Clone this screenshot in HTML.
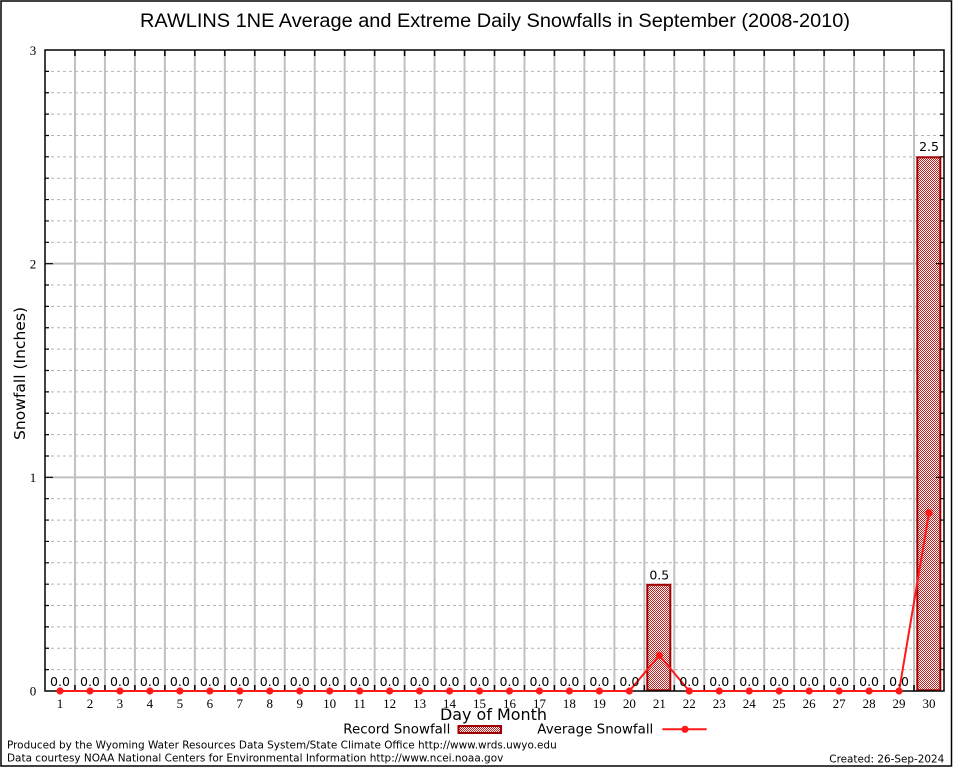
<!DOCTYPE html>
<html>
<head>
<meta charset="utf-8">
<style>
html,body{margin:0;padding:0;background:#fff;}
svg{display:block;}
.t{font-family:"DejaVu Sans",sans-serif;}
.s{font-family:"Liberation Serif",serif;}
</style>
</head>
<body>
<svg width="954" height="768" viewBox="0 0 954 768" xmlns="http://www.w3.org/2000/svg">
<defs>
<pattern id="chk" patternUnits="userSpaceOnUse" width="2" height="2">
<rect x="0" y="0" width="2" height="2" fill="#ffffff"/>
<rect x="0" y="0" width="1" height="1" fill="#c81e1e"/>
<rect x="1" y="1" width="1" height="1" fill="#c81e1e"/>
</pattern>
</defs>
<rect x="0" y="0" width="954" height="768" fill="#fff"/>
<rect x="1" y="1" width="950.5" height="765" fill="none" stroke="#000" stroke-width="1.5"/>

<!-- Title -->
<text x="495" y="27" text-anchor="middle" font-family="Liberation Sans, sans-serif" font-size="19" textLength="710" lengthAdjust="spacingAndGlyphs">RAWLINS 1NE Average and Extreme Daily Snowfalls in September (2008-2010)</text>

<!-- Minor horizontal dashed grid -->
<g stroke="#b4b4b4" stroke-width="1" stroke-dasharray="3,3" fill="none">
<line x1="45" x2="944" y1="669.63" y2="669.63"/>
<line x1="45" x2="944" y1="648.27" y2="648.27"/>
<line x1="45" x2="944" y1="626.9" y2="626.9"/>
<line x1="45" x2="944" y1="605.53" y2="605.53"/>
<line x1="45" x2="944" y1="584.17" y2="584.17"/>
<line x1="45" x2="944" y1="562.8" y2="562.8"/>
<line x1="45" x2="944" y1="541.43" y2="541.43"/>
<line x1="45" x2="944" y1="520.07" y2="520.07"/>
<line x1="45" x2="944" y1="498.7" y2="498.7"/>
<line x1="45" x2="944" y1="455.97" y2="455.97"/>
<line x1="45" x2="944" y1="434.6" y2="434.6"/>
<line x1="45" x2="944" y1="413.23" y2="413.23"/>
<line x1="45" x2="944" y1="391.87" y2="391.87"/>
<line x1="45" x2="944" y1="370.5" y2="370.5"/>
<line x1="45" x2="944" y1="349.13" y2="349.13"/>
<line x1="45" x2="944" y1="327.77" y2="327.77"/>
<line x1="45" x2="944" y1="306.4" y2="306.4"/>
<line x1="45" x2="944" y1="285.03" y2="285.03"/>
<line x1="45" x2="944" y1="242.3" y2="242.3"/>
<line x1="45" x2="944" y1="220.93" y2="220.93"/>
<line x1="45" x2="944" y1="199.57" y2="199.57"/>
<line x1="45" x2="944" y1="178.2" y2="178.2"/>
<line x1="45" x2="944" y1="156.83" y2="156.83"/>
<line x1="45" x2="944" y1="135.47" y2="135.47"/>
<line x1="45" x2="944" y1="114.1" y2="114.1"/>
<line x1="45" x2="944" y1="92.73" y2="92.73"/>
<line x1="45" x2="944" y1="71.37" y2="71.37"/>
</g>
<!-- Major horizontal grid -->
<g stroke="#c0c0c0" stroke-width="2">
<line x1="45" x2="944" y1="477.33" y2="477.33"/>
<line x1="45" x2="944" y1="263.67" y2="263.67"/>
</g>
<!-- Vertical grid -->
<g stroke="#c0c0c0" stroke-width="2">
<line x1="74.97" x2="74.97" y1="50" y2="691"/>
<line x1="104.93" x2="104.93" y1="50" y2="691"/>
<line x1="134.9" x2="134.9" y1="50" y2="691"/>
<line x1="164.87" x2="164.87" y1="50" y2="691"/>
<line x1="194.83" x2="194.83" y1="50" y2="691"/>
<line x1="224.8" x2="224.8" y1="50" y2="691"/>
<line x1="254.77" x2="254.77" y1="50" y2="691"/>
<line x1="284.73" x2="284.73" y1="50" y2="691"/>
<line x1="314.7" x2="314.7" y1="50" y2="691"/>
<line x1="344.67" x2="344.67" y1="50" y2="691"/>
<line x1="374.63" x2="374.63" y1="50" y2="691"/>
<line x1="404.6" x2="404.6" y1="50" y2="691"/>
<line x1="434.57" x2="434.57" y1="50" y2="691"/>
<line x1="464.53" x2="464.53" y1="50" y2="691"/>
<line x1="494.5" x2="494.5" y1="50" y2="691"/>
<line x1="524.47" x2="524.47" y1="50" y2="691"/>
<line x1="554.43" x2="554.43" y1="50" y2="691"/>
<line x1="584.4" x2="584.4" y1="50" y2="691"/>
<line x1="614.37" x2="614.37" y1="50" y2="691"/>
<line x1="644.33" x2="644.33" y1="50" y2="691"/>
<line x1="674.3" x2="674.3" y1="50" y2="691"/>
<line x1="704.27" x2="704.27" y1="50" y2="691"/>
<line x1="734.23" x2="734.23" y1="50" y2="691"/>
<line x1="764.2" x2="764.2" y1="50" y2="691"/>
<line x1="794.17" x2="794.17" y1="50" y2="691"/>
<line x1="824.13" x2="824.13" y1="50" y2="691"/>
<line x1="854.1" x2="854.1" y1="50" y2="691"/>
<line x1="884.07" x2="884.07" y1="50" y2="691"/>
<line x1="914.03" x2="914.03" y1="50" y2="691"/>
</g>

<!-- Bars -->
<rect x="647.3" y="584.8" width="23" height="105.5" fill="url(#chk)" stroke="#a00000" stroke-width="2"/>
<rect x="917.3" y="157.3" width="23" height="533" fill="url(#chk)" stroke="#a00000" stroke-width="2"/>

<!-- Axes frame -->
<rect x="45" y="50" width="899" height="641" fill="none" stroke="#000" stroke-width="1.5"/>

<!-- X ticks top and bottom -->
<g stroke="#000" stroke-width="1.5">
<path d="M74.97 50v6M104.93 50v6M134.9 50v6M164.87 50v6M194.83 50v6M224.8 50v6M254.77 50v6M284.73 50v6M314.7 50v6M344.67 50v6M374.63 50v6M404.6 50v6M434.57 50v6M464.53 50v6M494.5 50v6M524.47 50v6M554.43 50v6M584.4 50v6M614.37 50v6M644.33 50v6M674.3 50v6M704.27 50v6M734.23 50v6M764.2 50v6M794.17 50v6M824.13 50v6M854.1 50v6M884.07 50v6M914.03 50v6"/>
<path d="M74.97 691v-6M104.93 691v-6M134.9 691v-6M164.87 691v-6M194.83 691v-6M224.8 691v-6M254.77 691v-6M284.73 691v-6M314.7 691v-6M344.67 691v-6M374.63 691v-6M404.6 691v-6M434.57 691v-6M464.53 691v-6M494.5 691v-6M524.47 691v-6M554.43 691v-6M584.4 691v-6M614.37 691v-6M644.33 691v-6M674.3 691v-6M704.27 691v-6M734.23 691v-6M764.2 691v-6M794.17 691v-6M824.13 691v-6M854.1 691v-6M884.07 691v-6M914.03 691v-6"/>
</g>
<!-- Y ticks -->
<g stroke="#000" stroke-width="1.2">
<path d="M45 669.63h4M45 648.27h4M45 626.9h4M45 605.53h4M45 584.17h4M45 562.8h4M45 541.43h4M45 520.07h4M45 498.7h4M45 477.33h8M45 455.97h4M45 434.6h4M45 413.23h4M45 391.87h4M45 370.5h4M45 349.13h4M45 327.77h4M45 306.4h4M45 285.03h4M45 263.67h8M45 242.3h4M45 220.93h4M45 199.57h4M45 178.2h4M45 156.83h4M45 135.47h4M45 114.1h4M45 92.73h4M45 71.37h4"/>
<path d="M944 669.63h-4M944 648.27h-4M944 626.9h-4M944 605.53h-4M944 584.17h-4M944 562.8h-4M944 541.43h-4M944 520.07h-4M944 498.7h-4M944 477.33h-8M944 455.97h-4M944 434.6h-4M944 413.23h-4M944 391.87h-4M944 370.5h-4M944 349.13h-4M944 327.77h-4M944 306.4h-4M944 285.03h-4M944 263.67h-8M944 242.3h-4M944 220.93h-4M944 199.57h-4M944 178.2h-4M944 156.83h-4M944 135.47h-4M944 114.1h-4M944 92.73h-4M944 71.37h-4"/>
</g>

<!-- Average line -->
<polyline fill="none" stroke="#ff1a1a" stroke-width="2" points="59.98,691 89.95,691 119.92,691 149.88,691 179.85,691 209.82,691 239.78,691 269.75,691 299.72,691 329.68,691 359.65,691 389.62,691 419.58,691 449.55,691 479.52,691 509.48,691 539.45,691 569.42,691 599.38,691 629.35,691 659.32,655.4 689.28,691 719.25,691 749.22,691 779.18,691 809.15,691 839.12,691 869.08,691 899.05,691 929.02,512.9"/>
<g fill="#ff1a1a">
<circle cx="59.98" cy="691" r="3.6"/><circle cx="89.95" cy="691" r="3.6"/><circle cx="119.92" cy="691" r="3.6"/><circle cx="149.88" cy="691" r="3.6"/><circle cx="179.85" cy="691" r="3.6"/><circle cx="209.82" cy="691" r="3.6"/><circle cx="239.78" cy="691" r="3.6"/><circle cx="269.75" cy="691" r="3.6"/><circle cx="299.72" cy="691" r="3.6"/><circle cx="329.68" cy="691" r="3.6"/><circle cx="359.65" cy="691" r="3.6"/><circle cx="389.62" cy="691" r="3.6"/><circle cx="419.58" cy="691" r="3.6"/><circle cx="449.55" cy="691" r="3.6"/><circle cx="479.52" cy="691" r="3.6"/><circle cx="509.48" cy="691" r="3.6"/><circle cx="539.45" cy="691" r="3.6"/><circle cx="569.42" cy="691" r="3.6"/><circle cx="599.38" cy="691" r="3.6"/><circle cx="629.35" cy="691" r="3.6"/><circle cx="659.32" cy="655.4" r="3.6"/><circle cx="689.28" cy="691" r="3.6"/><circle cx="719.25" cy="691" r="3.6"/><circle cx="749.22" cy="691" r="3.6"/><circle cx="779.18" cy="691" r="3.6"/><circle cx="809.15" cy="691" r="3.6"/><circle cx="839.12" cy="691" r="3.6"/><circle cx="869.08" cy="691" r="3.6"/><circle cx="899.05" cy="691" r="3.6"/><circle cx="929.02" cy="512.9" r="3.6"/>
</g>

<!-- Data labels -->
<g class="t" font-size="12.5" text-anchor="middle" fill="#000">
<text x="59.98" y="686">0.0</text><text x="89.95" y="686">0.0</text><text x="119.92" y="686">0.0</text><text x="149.88" y="686">0.0</text><text x="179.85" y="686">0.0</text><text x="209.82" y="686">0.0</text><text x="239.78" y="686">0.0</text><text x="269.75" y="686">0.0</text><text x="299.72" y="686">0.0</text><text x="329.68" y="686">0.0</text><text x="359.65" y="686">0.0</text><text x="389.62" y="686">0.0</text><text x="419.58" y="686">0.0</text><text x="449.55" y="686">0.0</text><text x="479.52" y="686">0.0</text><text x="509.48" y="686">0.0</text><text x="539.45" y="686">0.0</text><text x="569.42" y="686">0.0</text><text x="599.38" y="686">0.0</text><text x="629.35" y="686">0.0</text>
<text x="659.32" y="579.5">0.5</text>
<text x="689.28" y="686">0.0</text><text x="719.25" y="686">0.0</text><text x="749.22" y="686">0.0</text><text x="779.18" y="686">0.0</text><text x="809.15" y="686">0.0</text><text x="839.12" y="686">0.0</text><text x="869.08" y="686">0.0</text><text x="899.05" y="686">0.0</text>
<text x="929.02" y="151">2.5</text>
</g>

<!-- X tick labels -->
<g class="s" font-size="13" text-anchor="middle" fill="#000">
<text x="59.98" y="708">1</text><text x="89.95" y="708">2</text><text x="119.92" y="708">3</text><text x="149.88" y="708">4</text><text x="179.85" y="708">5</text><text x="209.82" y="708">6</text><text x="239.78" y="708">7</text><text x="269.75" y="708">8</text><text x="299.72" y="708">9</text><text x="329.68" y="708">10</text><text x="359.65" y="708">11</text><text x="389.62" y="708">12</text><text x="419.58" y="708">13</text><text x="449.55" y="708">14</text><text x="479.52" y="708">15</text><text x="509.48" y="708">16</text><text x="539.45" y="708">17</text><text x="569.42" y="708">18</text><text x="599.38" y="708">19</text><text x="629.35" y="708">20</text><text x="659.32" y="708">21</text><text x="689.28" y="708">22</text><text x="719.25" y="708">23</text><text x="749.22" y="708">24</text><text x="779.18" y="708">25</text><text x="809.15" y="708">26</text><text x="839.12" y="708">27</text><text x="869.08" y="708">28</text><text x="899.05" y="708">29</text><text x="929.02" y="708">30</text>
</g>
<!-- Y tick labels -->
<g class="s" font-size="13" text-anchor="middle" fill="#000">
<text x="33" y="55">3</text>
<text x="33" y="268.5">2</text>
<text x="33" y="482">1</text>
<text x="33" y="695.5">0</text>
</g>

<!-- Axis titles -->
<text class="t" x="0" y="0" font-size="15.5" text-anchor="middle" transform="translate(25,373.5) rotate(-90)" textLength="133" lengthAdjust="spacingAndGlyphs">Snowfall (Inches)</text>
<text class="t" x="493.5" y="720" font-size="16" text-anchor="middle" textLength="107" lengthAdjust="spacingAndGlyphs">Day of Month</text>

<!-- Legend -->
<text class="t" x="343.3" y="733.5" font-size="13.3" textLength="107" lengthAdjust="spacingAndGlyphs">Record Snowfall</text>
<rect x="458.5" y="726" width="42.5" height="7" fill="url(#chk)" stroke="#a00000" stroke-width="2"/>
<text class="t" x="537.3" y="733.5" font-size="13.3" textLength="116" lengthAdjust="spacingAndGlyphs">Average Snowfall</text>
<line x1="662.3" y1="729.3" x2="706.7" y2="729.3" stroke="#ff1a1a" stroke-width="2"/>
<circle cx="685" cy="729.3" r="3.6" fill="#ff1a1a"/>

<!-- Footer -->
<text class="t" x="7" y="748.3" font-size="11" textLength="549.7" lengthAdjust="spacingAndGlyphs">Produced by the Wyoming Water Resources Data System/State Climate Office http://www.wrds.uwyo.edu</text>
<text class="t" x="7" y="761.7" font-size="11" textLength="496.3" lengthAdjust="spacingAndGlyphs">Data courtesy NOAA National Centers for Environmental Information http://www.ncei.noaa.gov</text>
<text class="t" x="829.3" y="762.5" font-size="11" textLength="115" lengthAdjust="spacingAndGlyphs">Created: 26-Sep-2024</text>
</svg>
</body>
</html>
